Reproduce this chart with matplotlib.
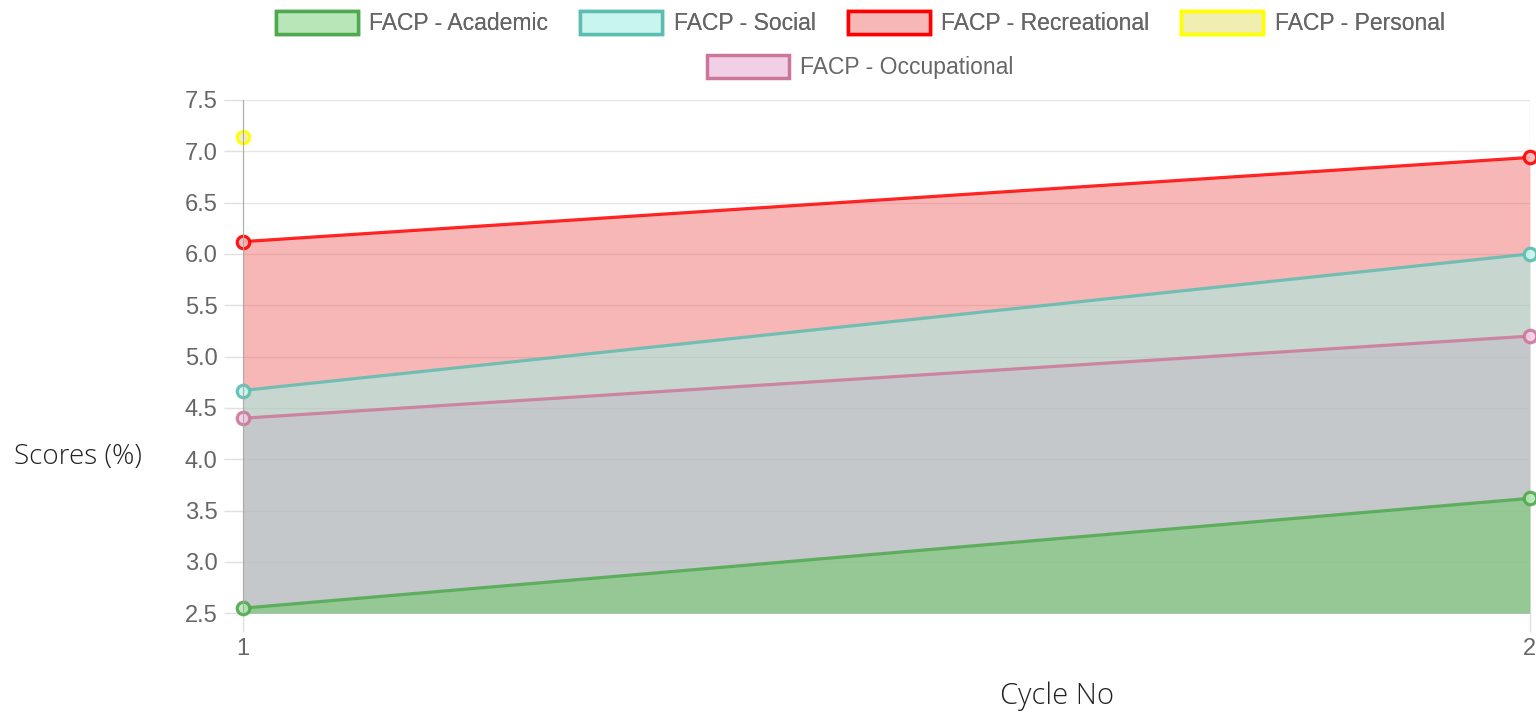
import numpy as np
import matplotlib.pyplot as plt
from matplotlib.patches import Patch

# data
cycles = [1, 2]
academic = [2.55, 3.62]
social = [4.67, 6.0]
recreational = [6.12, 6.94]
personal = [7.14, np.nan]
occupational = [4.40, 5.20]

labels = ['FACP - Academic', 'FACP - Social', 'FACP - Recreational',
          'FACP - Personal', 'FACP - Occupational']
series = [academic, social, recreational, personal, occupational]
line_cols = ['#4fa94f', '#5dbdb0', '#ff0000', '#ffff00', '#cc7799']
# fill colours (rgb 0-255) + alpha, tuned so the overlaps look like the original
fill_rgb = [(93, 200, 86), (153, 247, 233), (235, 75, 75), (235, 230, 140), (230, 130, 205)]
fill_alpha = [0.45, 0.5, 0.4, 0.4, 0.4]
legend_fill = ['#b8e6b8', '#c9f5ef', '#f7b7b7', '#f0eeb0', '#f1cfe6']

plt.rcParams['font.family'] = ['Liberation Sans', 'DejaVu Sans']

fig = plt.figure(figsize=(15.36, 7.19), dpi=100)
ax = fig.add_axes([0.158, 0.147, 0.838, 0.714])

ymin = 2.5
# chart.js draws first dataset on top -> draw in reverse order
for i in reversed(range(len(series))):
    y = np.array(series[i], dtype=float)
    z = 2 + (5 - i) * 0.1
    fc = tuple(c / 255 for c in fill_rgb[i]) + (fill_alpha[i],)
    if not np.isnan(y).any():
        ax.fill_between(cycles, ymin, y, color=fc, lw=0, zorder=z)
        ax.plot(cycles, y, color=line_cols[i], lw=2.3, zorder=z + 1, alpha=0.85)
    ax.plot(cycles, y, 'o', ms=9, mfc=legend_fill[i], mec=line_cols[i], mew=2.3,
            zorder=z + 2, alpha=0.9, clip_on=False)

ax.set_xlim(1, 2)
ax.set_ylim(2.5, 7.5)
ax.set_yticks(np.arange(2.5, 7.51, 0.5))
ax.set_yticklabels(['%.1f' % v for v in np.arange(2.5, 7.51, 0.5)])
ax.set_xticks([1, 2])
ax.set_xticklabels(['1', '2'])
ax.tick_params(axis='both', colors='#e0e0e0', labelcolor='#666666', labelsize=17,
               length=14, width=1, pad=4)
ax.grid(True, color='#e6e6e6', lw=1, zorder=0)
ax.set_axisbelow(True)
for s in ['top', 'right', 'bottom']:
    ax.spines[s].set_visible(False)
ax.spines['left'].set_color('#aaaaaa')
ax.spines['left'].set_zorder(5)

fig.text(0.051, 0.364, 'Scores (%)', fontsize=20, color='#222222',
         family=['Open Sans', 'DejaVu Sans'], fontweight='light', va='center', ha='center')
fig.text(0.688, 0.031, 'Cycle No', fontsize=21, color='#222222',
         family=['Open Sans', 'DejaVu Sans'], fontweight='light', va='center', ha='center')

handles = [Patch(facecolor=legend_fill[i], edgecolor=line_cols[i], lw=2.5)
           for i in range(5)]
leg_kw = dict(loc='center', frameon=False, fontsize=16.5, handlelength=3.58,
              handleheight=1.15, handletextpad=0.5, columnspacing=1.4,
              labelcolor='#666666')
leg1 = fig.legend(handles[:4], labels[:4], bbox_to_anchor=(0.56, 0.968), ncol=4, **leg_kw)
leg2 = fig.legend(handles[4:], labels[4:], bbox_to_anchor=(0.56, 0.907), **leg_kw)
fig.add_artist(leg1)

fig.savefig('out.png', dpi=100)
